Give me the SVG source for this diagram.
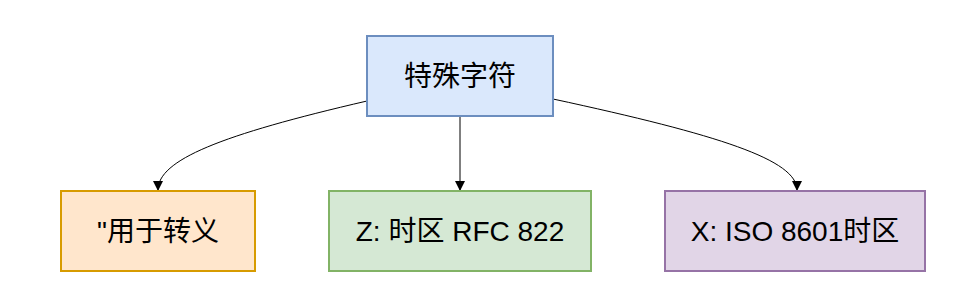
<svg xmlns="http://www.w3.org/2000/svg" width="970" height="306" viewBox="0 0 970 306">
<defs>
<style>
.n{stroke-width:2}
.t{font-family:"Liberation Sans","Noto Sans CJK SC",sans-serif;font-size:28px;fill:#000;text-anchor:middle;dominant-baseline:central}
.e{fill:none;stroke:#000;stroke-width:1}
</style>
<marker id="a" viewBox="0 0 10 10" refX="9" refY="5" markerWidth="10" markerHeight="10" markerUnits="userSpaceOnUse" orient="auto">
<path d="M0,0 L10,5 L0,10 Z" fill="#000"/>
</marker>
</defs>
<rect width="970" height="306" fill="#fff"/>
<g id="connectors">
<path class="e" d="M367,101 C220,135 158,160 158,190" marker-end="url(#a)"/>
<path class="e" d="M460,117 L460,190" marker-end="url(#a)"/>
<path class="e" d="M553,99 C720,135 797,160 797,190" marker-end="url(#a)"/>
</g>
<g id="n1"><rect class="n" x="367" y="36" width="186" height="80" fill="#dae8fc" stroke="#6c8ebf"/><text class="t" x="460" y="76">特殊字符</text></g>
<g id="n2"><rect class="n" x="61" y="191" width="194" height="80" fill="#ffe6cc" stroke="#d79b00"/><text class="t" x="158" y="231">"用于转义</text></g>
<g id="n3"><rect class="n" x="329" y="191" width="262" height="80" fill="#d5e8d4" stroke="#82b366"/><text class="t" x="460" y="231">Z: 时区 RFC 822</text></g>
<g id="n4"><rect class="n" x="665" y="191" width="260" height="80" fill="#e1d5e7" stroke="#9673a6"/><text class="t" x="795" y="231">X: ISO 8601时区</text></g>
</svg>
